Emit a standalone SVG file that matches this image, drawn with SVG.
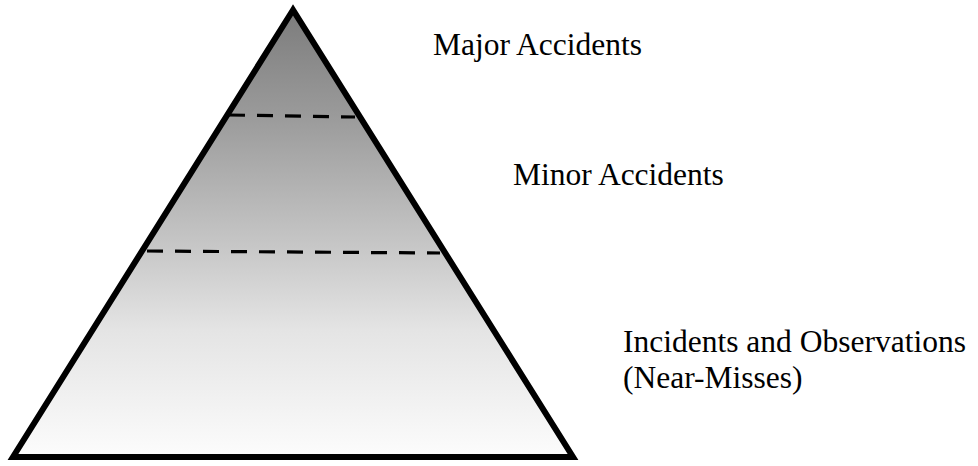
<svg xmlns="http://www.w3.org/2000/svg" width="978" height="466" viewBox="0 0 978 466">
<defs>
<linearGradient id="g" x1="0" y1="10" x2="0" y2="457" gradientUnits="userSpaceOnUse">
<stop offset="0" stop-color="#7c7c7c"/>
<stop offset="0.235" stop-color="#9a9a9a"/>
<stop offset="0.537" stop-color="#c8c8c8"/>
<stop offset="0.716" stop-color="#e4e4e4"/>
<stop offset="1" stop-color="#fcfcfc"/>
</linearGradient>
</defs>
<style>
.lbl{font-family:"Liberation Serif","Times New Roman",serif;font-size:31.5px;fill:#000}
.dash{stroke:#000;stroke-width:3.2;stroke-dasharray:16 12;fill:none}
</style>
<rect width="978" height="466" fill="#fff"/>
<g id="pyramid">
<polygon points="293,10 13,457 573,457" fill="url(#g)" stroke="#000" stroke-width="6" stroke-linejoin="miter"/>
</g>
<g id="dividers">
<line class="dash" x1="229" y1="115" x2="355" y2="117"/>
<line class="dash" x1="147" y1="251" x2="440" y2="253"/>
</g>
<g id="major"><text class="lbl" x="433" y="55">Major Accidents</text></g>
<g id="minor"><text class="lbl" x="513" y="185">Minor Accidents</text></g>
<g id="incidents"><text class="lbl" x="623" y="352">Incidents and Observations</text><text class="lbl" x="623" y="388">(Near-Misses)</text></g>
</svg>
